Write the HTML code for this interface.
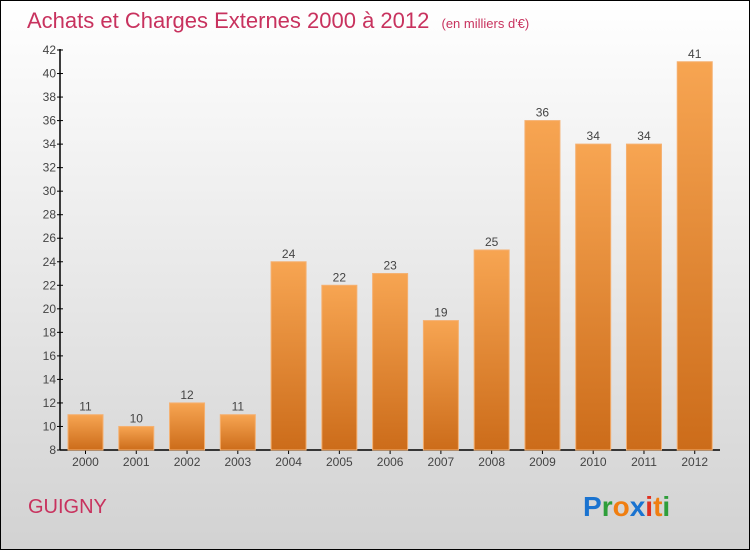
<!DOCTYPE html>
<html><head><meta charset="utf-8"><style>
body{margin:0}
#c{width:748px;height:548px;border:1px solid #000;background:linear-gradient(#ffffff,#d2d2d2);position:relative;overflow:hidden;font-family:"Liberation Sans",sans-serif}
</style></head><body>
<div id="c">
<svg width="748" height="548" viewBox="1 1 748 548" style="position:absolute;left:0;top:0">
<defs><linearGradient id="bg" x1="0" y1="0" x2="0" y2="1"><stop offset="0" stop-color="#f7a552"/><stop offset="1" stop-color="#cc6c1a"/></linearGradient></defs>
<text x="27" y="28" font-size="22" fill="#c8325e">Achats et Charges Externes 2000 à 2012 <tspan font-size="13" dx="6">(en milliers d'€)</tspan></text>
<g id="ax"></g><g id="bars"></g>
<text x="28" y="513" font-size="20" fill="#c8325e">GUIGNY</text>
<text x="583" y="516" font-size="28" font-weight="bold"><tspan fill="#1a73d0">P</tspan><tspan fill="#2e9e3a">r</tspan><tspan fill="#f07e10">o</tspan><tspan fill="#1a73d0">x</tspan><tspan fill="#e03020">i</tspan><tspan fill="#f07e10">t</tspan><tspan fill="#2e9e3a">i</tspan></text>
</svg></div>
<script>
const years=["2000","2001","2002","2003","2004","2005","2006","2007","2008","2009","2010","2011","2012"];
const values=[11,10,12,11,24,22,23,19,25,36,34,34,41];
const ticks=[8,10,12,14,16,18,20,22,24,26,28,30,32,34,36,38,40,42];
const NS="http://www.w3.org/2000/svg";
const y0=450,y1=50,vmin=8,vmax=42,xl=60,gw=50.77;
const Y=v=>y0-(v-vmin)/(vmax-vmin)*(y0-y1);
function mk(t,a,p){const e=document.createElementNS(NS,t);for(const k in a)e.setAttribute(k,a[k]);p.appendChild(e);return e;}
const ax=document.getElementById('ax'),bg=document.getElementById('bars');
ticks.forEach(t=>{const l=mk('line',{x1:xl-3,x2:xl+3,y1:Y(t),y2:Y(t),stroke:'#000'},ax);


const tx=mk('text',{x:xl-4,y:Y(t)+4,'text-anchor':'end','font-size':12,fill:'#444'},ax);tx.textContent=t;

});
years.forEach((yr,i)=>{const x=xl+i*gw;const v=values[i];
const r=mk('rect',{x:x+8,y:Y(v),width:35,height:y0-Y(v),fill:'url(#bg)',stroke:'#f5b070','stroke-width':1},bg);


const lb=mk('text',{x:x+25.5,y:Y(v)-4,'text-anchor':'middle','font-size':12,fill:'#444'},bg);lb.textContent=v;


mk('line',{x1:x+25.5,x2:x+25.5,y1:y0,y2:y0+4,stroke:'#000'},ax);
const xt=mk('text',{x:x+25.5,y:y0+16,'text-anchor':'middle','font-size':12,fill:'#444'},ax);xt.textContent=yr;

});
const ya=mk('line',{x1:xl,x2:xl,y1:y1-1,y2:y0,stroke:'#000','stroke-width':1.5},ax);


const xa=mk('line',{x1:xl,x2:xl+13*gw,y1:y0,y2:y0,stroke:'#000','stroke-width':1.5},ax);


</script></body></html>
